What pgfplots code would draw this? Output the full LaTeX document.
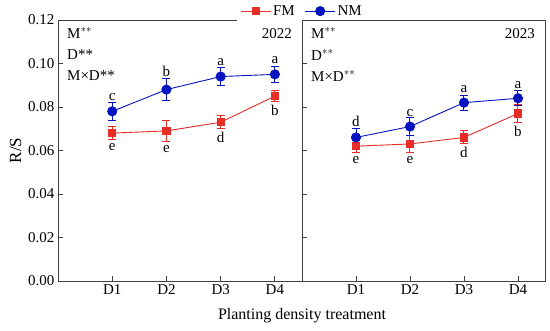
\documentclass[border=0pt]{standalone}
\usepackage{fontspec}
\setmainfont{Liberation Serif}
\usepackage{pgfplots}
\pgfplotsset{compat=1.18}
\definecolor{fmred}{RGB}{230,45,40}
\definecolor{nmblue}{RGB}{5,20,190}
\newcommand{\fs}{\fontsize{15}{17}\selectfont}
\pgfplotsset{
  base/.style={scale only axis, width=244pt, height=261pt, xmin=0, xmax=4.5, ymin=0, ymax=0.12,
    xtick={1,2,3,4}, xticklabels={D1,D2,D3,D4}, ytick={0,0.02,0.04,0.06,0.08,0.10,0.12},
    tick align=inside, major tick length=5pt, xtick pos=bottom, ytick pos=left,
    axis line style={line width=0.8pt, color=black!75}, tick style={black!75, line width=0.8pt},
    /pgf/number format/assume math mode=true, tick label style={font=\fs},
    yticklabel style={/pgf/number format/fixed, /pgf/number format/fixed zerofill, /pgf/number format/precision=2},
    scaled y ticks=false, clip=false},
  fmplot/.style={color=fmred, line width=0.9pt, mark=square*, mark size=3.6pt, mark options={solid},
    error bars/.cd, y dir=both, y explicit, error bar style={line width=1pt}, error mark options={rotate=90, mark size=4pt, line width=1pt}},
  nmplot/.style={color=nmblue, line width=0.9pt, mark=*, mark size=4.6pt, mark options={solid},
    error bars/.cd, y dir=both, y explicit, error bar style={line width=1pt}, error mark options={rotate=90, mark size=4pt, line width=1pt}},
}
\begin{document}
\begin{tikzpicture}
\begin{axis}[base, at={(0pt,0pt)}, anchor=south west,
  ylabel={R/S}, ylabel style={font=\fontsize{17}{19}\selectfont},
  legend columns=2, legend style={draw=none, at={(rel axis cs:1,1)}, anchor=south, yshift=-1pt, font=\fs, /tikz/every even column/.append style={column sep=8pt}},
  legend image code/.code={\draw[mark repeat=2,mark phase=2] plot coordinates {(0pt,0pt)(15pt,0pt)(30pt,0pt)};}]
\addplot[fmplot] table[x=x, y=y, y error=e] {
x y e
1 0.068 0.003
2 0.069 0.005
3 0.073 0.003
4 0.085 0.0025
};
\addlegendentry{FM}
\addplot[nmplot] table[x=x, y=y, y error=e] {
x y e
1 0.078 0.004
2 0.088 0.005
3 0.094 0.004
4 0.095 0.0037
};
\addlegendentry{NM}
% letters NM
\node[anchor=south, font=\fs, inner sep=1pt] at (axis cs:1,0.0822) {c};
\node[anchor=south, font=\fs, inner sep=1pt] at (axis cs:2,0.0934) {b};
\node[anchor=south, font=\fs, inner sep=1pt] at (axis cs:3,0.0985) {a};
\node[anchor=south, font=\fs, inner sep=1pt] at (axis cs:4,0.0992) {a};
% letters FM
\node[anchor=north, font=\fs, inner sep=1pt] at (axis cs:1,0.0640) {e};
\node[anchor=north, font=\fs, inner sep=1pt] at (axis cs:2,0.0630) {e};
\node[anchor=north, font=\fs, inner sep=1pt] at (axis cs:3,0.0690) {d};
\node[anchor=north, font=\fs, inner sep=1pt] at (axis cs:4,0.0815) {b};
\node[anchor=west, font=\fs, inner sep=0pt] at ([xshift=9pt,yshift=-13pt]rel axis cs:0,1) {M$^{**}$};
\node[anchor=west, font=\fs, inner sep=0pt] at ([xshift=9pt,yshift=-35pt]rel axis cs:0,1) {D**};
\node[anchor=west, font=\fs, inner sep=0pt] at ([xshift=9pt,yshift=-56pt]rel axis cs:0,1) {M×D**};
\node[anchor=east, font=\fs, inner sep=0pt] at ([xshift=-10pt,yshift=-14pt]rel axis cs:1,1) {2022};
\node[font=\fontsize{16}{18}\selectfont] at ([yshift=-35pt]rel axis cs:1,0) {Planting density treatment};
\end{axis}
\begin{axis}[base, at={(244pt,0pt)}, anchor=south west, width=243pt, yticklabels={}]
\addplot[fmplot] table[x=x, y=y, y error=e] {
x y e
1 0.062 0.003
2 0.063 0.004
3 0.066 0.003
4 0.077 0.004
};
\addplot[nmplot] table[x=x, y=y, y error=e] {
x y e
1 0.066 0.004
2 0.071 0.004
3 0.082 0.0035
4 0.084 0.0035
};
\node[anchor=south, font=\fs, inner sep=1pt] at (axis cs:1,0.0702) {d};
\node[anchor=south, font=\fs, inner sep=1pt] at (axis cs:2,0.0751) {c};
\node[anchor=south, font=\fs, inner sep=1pt] at (axis cs:3,0.0860) {a};
\node[anchor=south, font=\fs, inner sep=1pt] at (axis cs:4,0.0880) {a};
\node[anchor=north, font=\fs, inner sep=1pt] at (axis cs:1,0.0580) {e};
\node[anchor=north, font=\fs, inner sep=1pt] at (axis cs:2,0.0578) {e};
\node[anchor=north, font=\fs, inner sep=1pt] at (axis cs:3,0.0623) {d};
\node[anchor=north, font=\fs, inner sep=1pt] at (axis cs:4,0.0718) {b};
\node[anchor=west, font=\fs, inner sep=0pt] at ([xshift=9pt,yshift=-13pt]rel axis cs:0,1) {M$^{**}$};
\node[anchor=west, font=\fs, inner sep=0pt] at ([xshift=9pt,yshift=-35pt]rel axis cs:0,1) {D$^{**}$};
\node[anchor=west, font=\fs, inner sep=0pt] at ([xshift=9pt,yshift=-56pt]rel axis cs:0,1) {M×D$^{**}$};
\node[anchor=east, font=\fs, inner sep=0pt] at ([xshift=-10pt,yshift=-14pt]rel axis cs:1,1) {2023};
\end{axis}
\pgfresetboundingbox
\useasboundingbox (-58pt,-50pt) rectangle (492pt,281pt);
\end{tikzpicture}
\end{document}
